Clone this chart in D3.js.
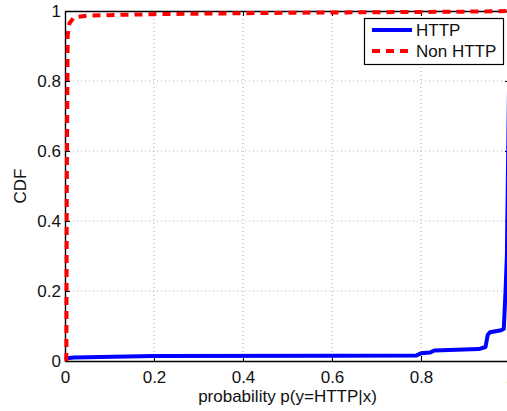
<!DOCTYPE html>
<html><head><meta charset="utf-8">
<script src="https://cdn.jsdelivr.net/npm/d3@7"></script>
<style>body{margin:0;background:#fff}svg{display:block;font-family:"Liberation Sans",Arial,sans-serif}</style>
</head><body>
<svg id="c" width="507" height="411"></svg>
<script>
const xTicks = [0, 0.2, 0.4, 0.6, 0.8, 1];
const yTicks = [0, 0.2, 0.4, 0.6, 0.8, 1];
const xTickLabels = ["0", "0.2", "0.4", "0.6", "0.8", "1"];
const yTickLabels = ["0", "0.2", "0.4", "0.6", "0.8", "1"];
const seriesNames = ["HTTP", "Non HTTP"];
const httpX = [0, 0.005, 0.02, 0.2, 0.6, 0.79, 0.8, 0.82, 0.83, 0.93, 0.945, 0.95, 0.955, 0.98, 0.986, 0.99, 0.993, 0.997, 1.0];
const httpY = [0.005, 0.008, 0.010, 0.014, 0.015, 0.016, 0.022, 0.024, 0.030, 0.034, 0.040, 0.075, 0.082, 0.088, 0.092, 0.2, 0.3, 0.7, 1.0];
const nonX = [0.003, 0.004, 0.006, 0.01, 0.02, 0.05, 0.2, 0.5, 0.9, 1.0];
const nonY = [0, 0.5, 0.93, 0.965, 0.982, 0.987, 0.991, 0.995, 0.998, 1.0];

const FS = 17;
const svg = d3.select("#c");
const L = 65, T = 11, R = 510, B = 361;
const x = d3.scaleLinear().domain([0, 1]).range([L, R]);
const y = d3.scaleLinear().domain([0, 1]).range([B, T]);

// grid
const g = svg.append("g");
xTicks.slice(1, -1).forEach(v => {
  g.append("line").attr("x1", x(v)).attr("x2", x(v)).attr("y1", T).attr("y2", B)
    .attr("stroke", "#a8a8a8").attr("stroke-width", 1).attr("stroke-dasharray", "1,3");
});
yTicks.slice(1, -1).forEach(v => {
  g.append("line").attr("x1", L).attr("x2", R).attr("y1", y(v)).attr("y2", y(v))
    .attr("stroke", "#a8a8a8").attr("stroke-width", 1).attr("stroke-dasharray", "1,3");
});

// axes
const axB = svg.append("g").attr("transform", `translate(0,${B})`)
  .call(d3.axisBottom(x).tickValues(xTicks).tickFormat((d, i) => xTickLabels[i]).tickSizeInner(-5).tickSizeOuter(0).tickPadding(10));
const axT = svg.append("g").attr("transform", `translate(0,${T})`)
  .call(d3.axisTop(x).tickValues(xTicks).tickFormat("").tickSizeInner(-5).tickSizeOuter(0));
const axL = svg.append("g").attr("transform", `translate(${L},0)`)
  .call(d3.axisLeft(y).tickValues(yTicks).tickFormat((d, i) => yTickLabels[i]).tickSizeInner(-5).tickSizeOuter(0).tickPadding(4));
const axR = svg.append("g").attr("transform", `translate(${R},0)`)
  .call(d3.axisRight(y).tickValues(yTicks).tickFormat("").tickSizeInner(-5).tickSizeOuter(0));
[axB, axT, axL, axR].forEach(a => {
  a.selectAll("path").attr("stroke", "#000").attr("stroke-width", 1.4);
  a.selectAll("line").attr("stroke", "#000");
  a.selectAll("text").attr("font-size", FS).attr("fill", "#111").attr("font-family", "Liberation Sans, Arial, sans-serif");
});

// lines
const line = d3.line().x(d => x(d[0])).y(d => y(d[1]));
const httpData = httpX.map((v, i) => [v, httpY[i]]);
const nonData = nonX.map((v, i) => [v, nonY[i]]);
svg.append("path").datum(httpData).attr("d", line).attr("fill", "none")
  .attr("stroke", "#0000ff").attr("stroke-width", 4).attr("stroke-linejoin", "round");
svg.append("path").datum(nonData).attr("d", line).attr("fill", "none")
  .attr("stroke", "#ff0000").attr("stroke-width", 4).attr("stroke-dasharray", "8,6");

// labels
svg.append("text").attr("x", (L + R) / 2).attr("y", 402).attr("text-anchor", "middle")
  .attr("font-size", FS).attr("fill", "#111").text("probability p(y=HTTP|x)");
svg.append("text").attr("transform", `translate(26,${(T + B) / 2}) rotate(-90)`).attr("text-anchor", "middle")
  .attr("font-size", FS).attr("fill", "#111").text("CDF");

// legend
const lg = svg.append("g");
lg.append("rect").attr("x", 364.5).attr("y", 18.5).attr("width", 139).attr("height", 46)
  .attr("fill", "#fff").attr("stroke", "#000").attr("stroke-width", 1.2);
const colors = ["#0000ff", "#ff0000"];
const dashes = [null, "8,6"];
seriesNames.forEach((n, i) => {
  const yy = 30 + i * 21;
  lg.append("line").attr("x1", 372).attr("x2", 412).attr("y1", yy).attr("y2", yy)
    .attr("stroke", colors[i]).attr("stroke-width", 4).attr("stroke-dasharray", dashes[i]);
  lg.append("text").attr("x", 416).attr("y", yy + 6).attr("font-size", FS).attr("fill", "#111").text(n);
});
</script>
</body></html>
